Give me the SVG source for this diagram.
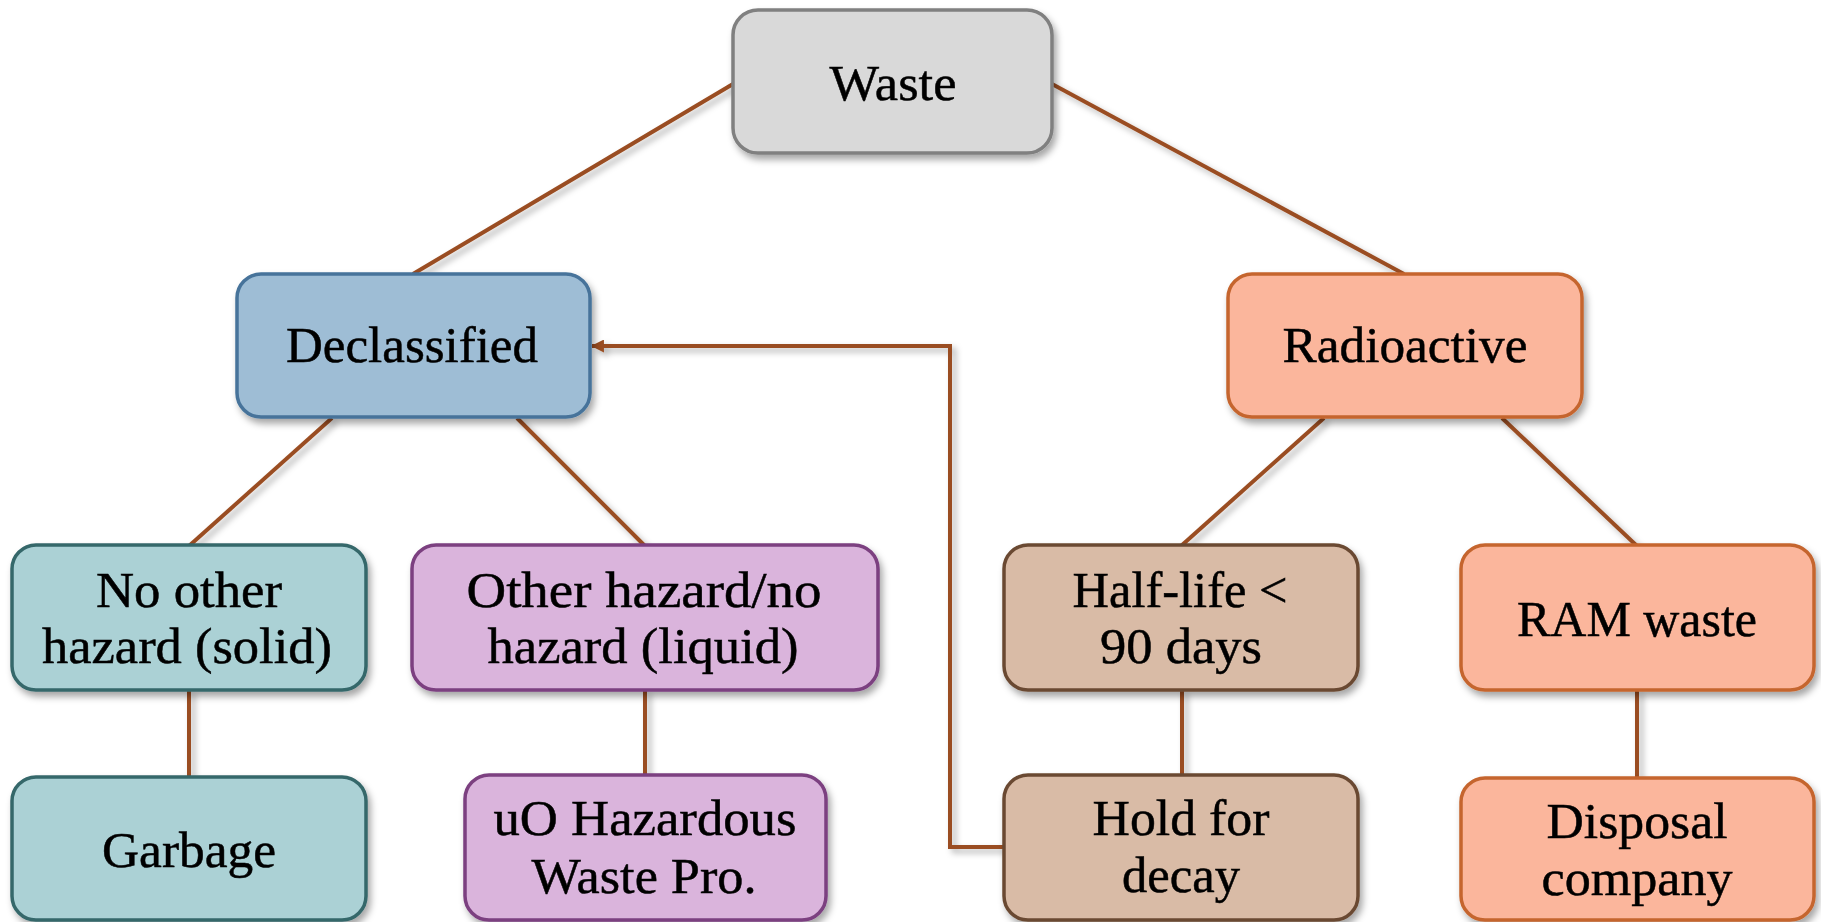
<svg xmlns="http://www.w3.org/2000/svg" width="1821" height="922" viewBox="0 0 1821 922">
  <defs>
    <filter id="shadow" x="-10%" y="-10%" width="130%" height="140%">
      <feDropShadow dx="3" dy="5" stdDeviation="3.5" flood-color="#000" flood-opacity="0.35"/>
    </filter>
    <filter id="lineShadow" x="-10%" y="-10%" width="130%" height="130%">
      <feDropShadow dx="4" dy="4" stdDeviation="3" flood-color="#000" flood-opacity="0.3"/>
    </filter>
    <marker id="arrow" viewBox="0 0 12 12" refX="11" refY="6" markerWidth="13" markerHeight="13" markerUnits="userSpaceOnUse" orient="auto">
      <path d="M0,0 L12,6 L0,12 Z" fill="#9a4d22"/>
    </marker>
  </defs>
  <style>
    .box { stroke-width: 3.5; filter: url(#shadow); }
    .grey { fill: #d9d9d9; stroke: #808080; }
    .blue { fill: #9ebdd5; stroke: #46739a; }
    .teal { fill: #abd1d5; stroke: #35676b; }
    .violet { fill: #dab4dc; stroke: #7b3f80; }
    .tan { fill: #d9bba6; stroke: #6b4a33; }
    .salmon { fill: #fbb69c; stroke: #c5652f; }
    .label { font-family: "Liberation Serif", "Times New Roman", serif; font-size: 51px; fill: #000; stroke: #000; stroke-width: 0.5; text-anchor: middle; }
    .link { fill: none; stroke: #9a4d22; stroke-width: 4; }
  </style>

  <!-- connectors -->
  <g id="connectors" filter="url(#lineShadow)">
    <line class="link" x1="733" y1="84" x2="413" y2="274"/>
    <line class="link" x1="1052" y1="84" x2="1404" y2="274"/>
    <line class="link" x1="332" y1="418" x2="189" y2="546"/>
    <line class="link" x1="517" y1="418" x2="645" y2="546"/>
    <line class="link" x1="1324" y1="418" x2="1181" y2="546"/>
    <line class="link" x1="1502" y1="418" x2="1637" y2="546"/>
    <line class="link" x1="189" y1="690" x2="189" y2="777"/>
    <line class="link" x1="645" y1="690" x2="645" y2="775"/>
    <line class="link" x1="1182" y1="690" x2="1182" y2="775"/>
    <line class="link" x1="1637" y1="690" x2="1637" y2="778"/>
    <polyline class="link" points="1004,847 950,847 950,346 592,346" marker-end="url(#arrow)"/>
  </g>

  <g id="waste">
    <rect class="box grey" x="733" y="10" width="319" height="143" rx="25"/>
    <text class="label" x="893" y="100" textLength="127" lengthAdjust="spacingAndGlyphs">Waste</text>
  </g>

  <g id="declassified">
    <rect class="box blue" x="237" y="274" width="353" height="143" rx="24"/>
    <text class="label" x="412" y="362" textLength="252" lengthAdjust="spacingAndGlyphs">Declassified</text>
  </g>

  <g id="radioactive">
    <rect class="box salmon" x="1228" y="274" width="354" height="143" rx="24"/>
    <text class="label" x="1405" y="362" textLength="245" lengthAdjust="spacingAndGlyphs">Radioactive</text>
  </g>

  <g id="no-other-hazard">
    <rect class="box teal" x="12" y="545" width="354" height="145" rx="24"/>
    <text class="label" x="189" y="607" textLength="186" lengthAdjust="spacingAndGlyphs">No other</text>
    <text class="label" x="187" y="663" textLength="290" lengthAdjust="spacingAndGlyphs">hazard (solid)</text>
  </g>

  <g id="other-hazard">
    <rect class="box violet" x="412" y="545" width="466" height="145" rx="24"/>
    <text class="label" x="644" y="607" textLength="355" lengthAdjust="spacingAndGlyphs">Other hazard/no</text>
    <text class="label" x="643" y="663" textLength="311" lengthAdjust="spacingAndGlyphs">hazard (liquid)</text>
  </g>

  <g id="half-life">
    <rect class="box tan" x="1004" y="545" width="354" height="145" rx="24"/>
    <text class="label" x="1180" y="607" textLength="215" lengthAdjust="spacingAndGlyphs">Half-life &lt;</text>
    <text class="label" x="1181" y="663" textLength="162" lengthAdjust="spacingAndGlyphs">90 days</text>
  </g>

  <g id="ram-waste">
    <rect class="box salmon" x="1461" y="545" width="353" height="145" rx="24"/>
    <text class="label" x="1637" y="636" textLength="240" lengthAdjust="spacingAndGlyphs">RAM waste</text>
  </g>

  <g id="garbage">
    <rect class="box teal" x="12" y="777" width="354" height="143" rx="24"/>
    <text class="label" x="189" y="867" textLength="174" lengthAdjust="spacingAndGlyphs">Garbage</text>
  </g>

  <g id="uo-hazardous">
    <rect class="box violet" x="465" y="775" width="361" height="145" rx="24"/>
    <text class="label" x="645" y="835" textLength="303" lengthAdjust="spacingAndGlyphs">uO Hazardous</text>
    <text class="label" x="644" y="893" textLength="225" lengthAdjust="spacingAndGlyphs">Waste Pro.</text>
  </g>

  <g id="hold-for-decay">
    <rect class="box tan" x="1004" y="775" width="354" height="145" rx="24"/>
    <text class="label" x="1181" y="835" textLength="177" lengthAdjust="spacingAndGlyphs">Hold for</text>
    <text class="label" x="1181" y="892" textLength="118" lengthAdjust="spacingAndGlyphs">decay</text>
  </g>

  <g id="disposal-company">
    <rect class="box salmon" x="1461" y="778" width="353" height="142" rx="24"/>
    <text class="label" x="1637" y="838" textLength="181" lengthAdjust="spacingAndGlyphs">Disposal</text>
    <text class="label" x="1637" y="895" textLength="191" lengthAdjust="spacingAndGlyphs">company</text>
  </g>
</svg>
